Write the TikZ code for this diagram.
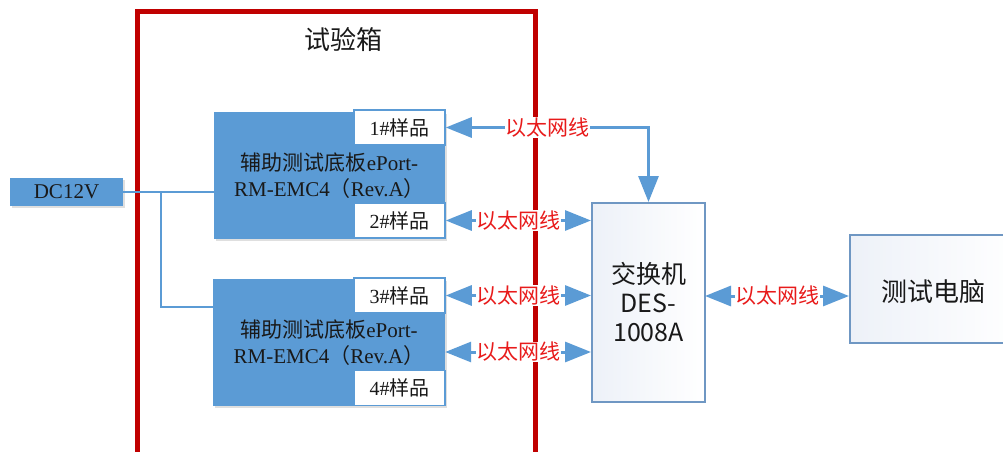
\documentclass[tikz,border=0pt]{standalone}
\usepackage{fontspec}
\setmainfont{Liberation Serif}
\newfontfamily\cjk{Noto Sans CJK SC}
\usetikzlibrary{arrows.meta,shadows,calc}
\definecolor{boardblue}{HTML}{5B9BD5}
\definecolor{boxred}{HTML}{C00000}
\definecolor{lblred}{HTML}{E81B1B}
\definecolor{swborder}{HTML}{6F97C3}
\definecolor{paleblue}{HTML}{EDF1F8}
\tikzset{
  board/.style={fill=boardblue, draw=none, inner sep=0pt, align=center,
    font=\fontsize{21}{26}\selectfont, text=black!90,
    drop shadow={opacity=0.25, shadow xshift=2pt, shadow yshift=-2pt}},
  sample/.style={fill=white, draw=boardblue, line width=1.5pt, inner sep=0pt,
    minimum width=91pt, minimum height=35pt, font=\fontsize{20}{24}\selectfont, text=black!90},
  device/.style={draw=swborder, line width=2pt, left color=paleblue, right color=white,
    inner sep=0pt, align=center, text=black!90},
  eth/.style={draw=boardblue, line width=3pt,
    {Triangle[length=26pt,width=20pt]}-{Triangle[length=26pt,width=20pt]}},
  ethlbl/.style={fill=white, text=lblred, inner sep=0.5pt, font=\cjk\fontsize{21}{24}\selectfont},
  power/.style={draw=boardblue, line width=2pt}
}
\begin{document}
\begin{tikzpicture}[x=1pt,y=-1pt]
\useasboundingbox (0,0) rectangle (1003,452);
\clip (0,0) rectangle (1003,452);
\fill[white] (0,0) rectangle (1003,452);
% test box
\draw[boxred, line width=5pt] (137,12) rectangle (535,480);
\node[font=\cjk\fontsize{26}{30}\selectfont, text=black!90] (title) at (343,40) {试验箱};
% boards
\node[board, minimum width=231pt, minimum height=127pt] (b1) at (329.5,175.5)
  {{\cjk 辅助测试底板}ePort-\\RM-EMC4{\cjk （}Rev.A{\cjk ）}};
\node[board, minimum width=232pt, minimum height=127pt] (b2) at (329,342.5)
  {{\cjk 辅助测试底板}ePort-\\RM-EMC4{\cjk （}Rev.A{\cjk ）}};
\node[sample] (s1) at (399.5,127.5) {1\#{\cjk 样品}};
\node[sample] (s2) at (399.5,220.5) {2\#{\cjk 样品}};
\node[sample] (s3) at (399.5,295.5) {3\#{\cjk 样品}};
\node[sample] (s4) at (399.5,388) {4\#{\cjk 样品}};
% DC
\node[board, minimum width=113pt, minimum height=28pt, font=\fontsize{21}{24}\selectfont] (dc) at (66.5,192) {DC12V};
% devices
\node[device, minimum width=113pt, minimum height=199pt, font=\cjk\fontsize{25}{29}\selectfont] (sw) at (648.5,302.5)
  {交换机\\DES-\\1008A};
\node[device, minimum width=166pt, minimum height=108pt] (pc) at (933,289) {};
\node[font=\cjk\fontsize{26}{30}\selectfont, text=black!90] (pct) at (933,292) {测试电脑};
% power
\coordinate (br) at (161,192);
\coordinate (j2) at (213,307);
\draw[power] (dc.east) -- (dc.east -| b1.west);
\draw[power] (br) |- (j2);
% ethernet
\draw[eth] (s1.east) -| node[ethlbl, pos=0.25] (l1) {以太网线} (sw.north);
\draw[eth] (s2.east) -- node[ethlbl] (l2) {以太网线} (sw.west |- s2.east);
\draw[eth] (s3.east) -- node[ethlbl] (l3) {以太网线} (sw.west |- s3.east);
\coordinate (e4) at ($(b2.east)+(0,9.5)$);
\draw[eth] (e4) -- node[ethlbl] (l4) {以太网线} (sw.west |- e4);
\coordinate (e5) at (705,296);
\draw[eth] (e5) -- node[ethlbl] (l5) {以太网线} (e5 -| pc.west);
\end{tikzpicture}
\end{document}
